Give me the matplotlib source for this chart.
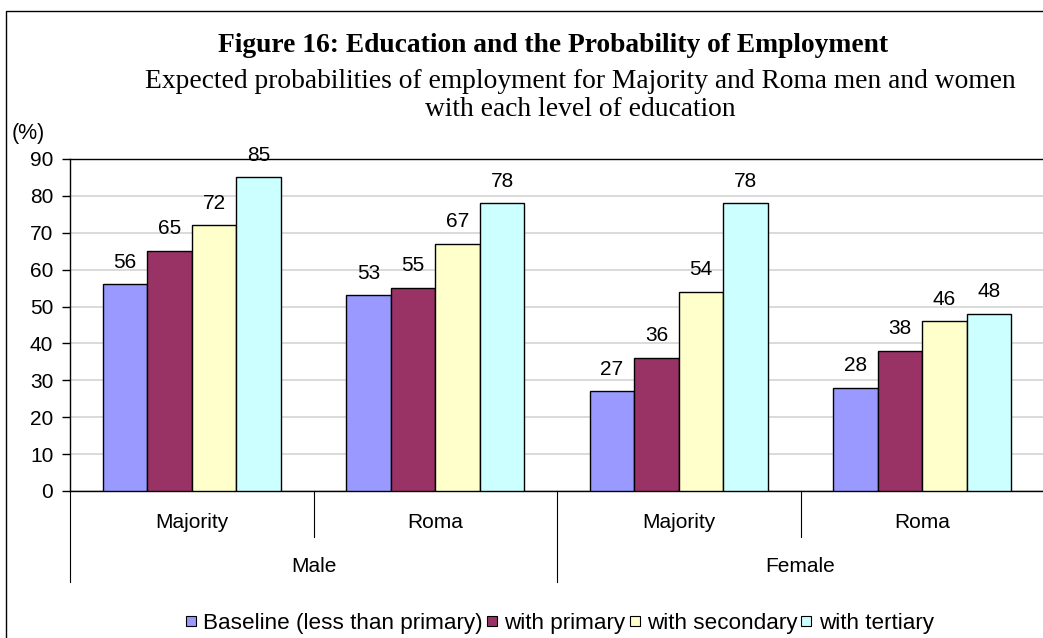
import matplotlib
matplotlib.use("Agg")
import matplotlib.pyplot as plt
from matplotlib.patches import Rectangle
from matplotlib.lines import Line2D
import numpy as np

# Data
genders = ["Male", "Female"]
groups = ["Majority", "Roma", "Majority", "Roma"]
series_names = ["Baseline (less than primary)", "with primary", "with secondary", "with tertiary"]
baseline = [56, 53, 27, 28]
primary = [65, 55, 36, 38]
secondary = [72, 67, 54, 46]
tertiary = [85, 78, 78, 48]
colors = ["#9999FF", "#993366", "#FFFFCC", "#CCFFFF"]
yticks = [0, 10, 20, 30, 40, 50, 60, 70, 80, 90]

W, H = 1043, 638
fig = plt.figure(figsize=(W / 100, H / 100), dpi=100)
fig.patch.set_facecolor("white")

SANS = "Liberation Sans"
SERIF = "Liberation Serif"
FS = 15

def fx(px):
    return px / W

def fy(py):
    return 1 - py / H

# Outer chart frame
fig.patches.append(Rectangle((fx(6), fy(700)), fx(1100), fy(11) - fy(700),
                             transform=fig.transFigure, fill=False,
                             edgecolor="black", linewidth=1.0))

ax = fig.add_axes([fx(70), fy(491), fx(1044) - fx(70), fy(159) - fy(491)])
ax.set_xlim(0, 4)
ax.set_ylim(0, 90)

bar_w = 0.183
values = [baseline, primary, secondary, tertiary]
x = np.arange(len(groups)) + 0.5
for i, (vals, c) in enumerate(zip(values, colors)):
    offs = (i - 1.5) * bar_w
    bars = ax.bar(x + offs, vals, width=bar_w, color=c, edgecolor="black",
                  linewidth=1.0, zorder=3)
    for b, v in zip(bars, vals):
        ax.annotate(f"{v}", (b.get_x() + b.get_width() / 2, v),
                    xytext=(0, 16), textcoords="offset points",
                    ha="center", va="center", fontsize=FS, family=SANS,
                    zorder=4, annotation_clip=False)

ax.set_yticks(yticks)
ax.set_yticklabels([str(t) for t in yticks], fontsize=FS, family=SANS)
ax.yaxis.grid(True, color="#D4D4D4", linewidth=1.2, zorder=0)
ax.set_axisbelow(True)
ax.set_xticks([])
ax.tick_params(axis="y", length=6, width=1, direction="out", pad=6, color="black")
for s in ["top", "left", "bottom"]:
    ax.spines[s].set_color("black")
    ax.spines[s].set_linewidth(1.0)
ax.spines["right"].set_visible(False)

# Hierarchical category axis
tr = ax.get_xaxis_transform()
span = 491 - 159
inner_bottom = -(537 - 491) / span
outer_bottom = -(582 - 491) / span
for xv in [1, 3]:
    ax.add_line(Line2D([xv, xv], [0, inner_bottom], transform=tr, color="black",
                       linewidth=0.8, clip_on=False))
for xv in [0, 2, 4]:
    ax.add_line(Line2D([xv, xv], [0, outer_bottom], transform=tr, color="black",
                       linewidth=0.8, clip_on=False))
for xi, g in zip(x, groups):
    ax.text(xi, -(522 - 491) / span, g, transform=tr, ha="center",
            va="center", fontsize=FS, family=SANS)
for xi, g in zip([1, 3], genders):
    ax.text(xi, -(567 - 491) / span, g, transform=tr, ha="center",
            va="center", fontsize=FS, family=SANS)

# Titles
fig.text(fx(553), fy(45), "Figure 16: Education and the Probability of Employment",
         ha="center", va="center", fontsize=19.8, fontweight="bold", family=SERIF)
fig.text(fx(580), fy(82), "Expected probabilities of employment for Majority and Roma men and women",
         ha="center", va="center", fontsize=19.8, family=SERIF)
fig.text(fx(580), fy(110), "with each level of education",
         ha="center", va="center", fontsize=19.8, family=SERIF)
fig.text(fx(28), fy(133), "(%)", ha="center", va="center", fontsize=FS + 0.5, family=SANS)

# Legend
handles = [Line2D([], [], marker="s", linestyle="none", markersize=7.5,
                  markerfacecolor=c, markeredgecolor="black", markeredgewidth=0.8)
           for c in colors]
leg = fig.legend(handles, series_names, loc="center", bbox_to_anchor=(fx(559), fy(623)),
                 ncol=4, frameon=False, handlelength=0.6, handletextpad=0.25,
                 columnspacing=0.1, borderpad=0,
                 prop={"family": SANS, "size": 16.2})

fig.savefig("out.png", dpi=100)
